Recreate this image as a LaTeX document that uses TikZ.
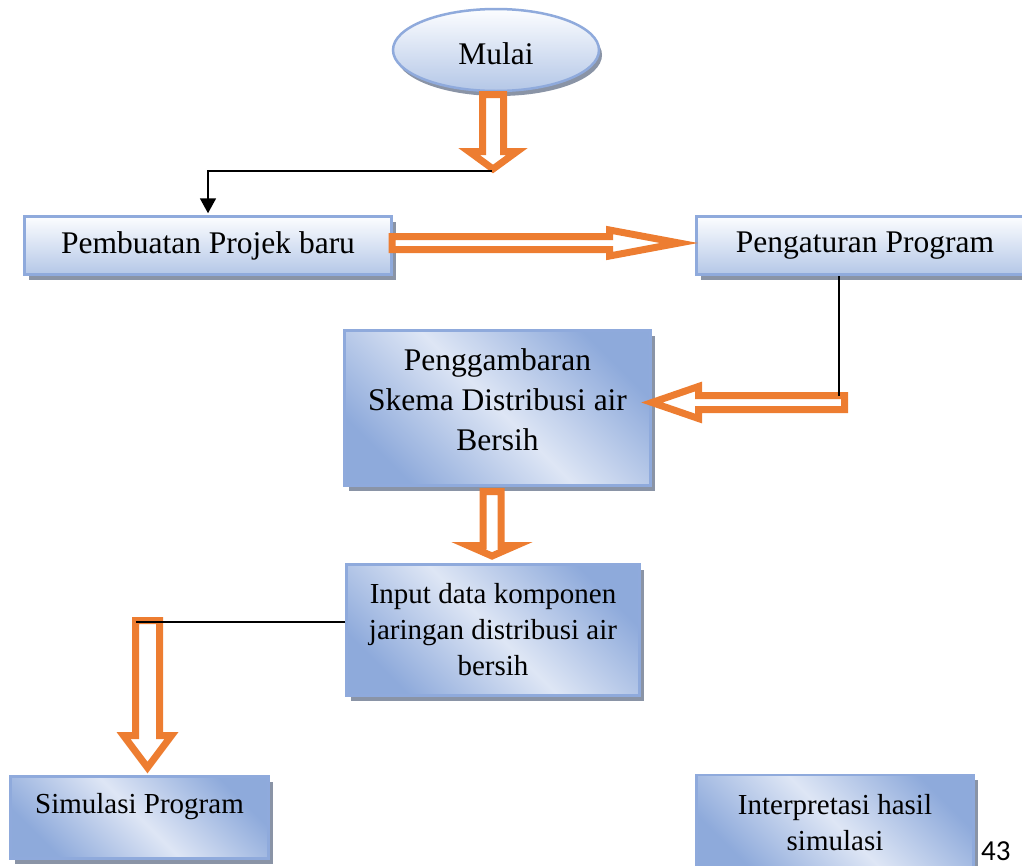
\documentclass[tikz,border=0pt]{standalone}
\usepackage{fontspec}
\setmainfont{Liberation Serif}
\newfontfamily\pagenumfont{Carlito}
\usetikzlibrary{shadows,arrows.meta,shapes.geometric,calc}
\definecolor{boxborder}{RGB}{143,170,220}
\definecolor{boxdark}{RGB}{142,170,219}
\definecolor{boxlight}{RGB}{222,230,245}
\definecolor{boxtop}{RGB}{252,253,255}
\definecolor{boxbottom}{RGB}{180,199,231}
\definecolor{shadowgray}{RGB}{138,148,166}
\definecolor{arroworange}{RGB}{237,125,49}
\tikzset{
  flowbox/.style={rectangle, draw=boxborder, line width=2.5pt, inner sep=0pt, align=center,
    drop shadow={shadow xshift=4pt, shadow yshift=-5pt, fill=shadowgray, opacity=1}},
  plainfill/.style={top color=boxtop, bottom color=boxbottom},
  diagfill/.style={top color=boxdark, bottom color=boxdark, middle color=boxlight, shading angle=-45},
  bigtext/.style={font=\fontsize{31.5}{40}\selectfont},
  smalltext/.style={font=\fontsize{29}{36}\selectfont},
  hollow/.style={draw=arroworange, fill=white, line width=7pt, line join=miter},
  connector/.style={draw=black, line width=1.8pt},
}
\newcommand{\HollowDown}[6]{%
  \draw[hollow] (#1-#5,#2) -- (#1+#5,#2) -- (#1+#5,#3) -- (#1+#6,#3) -- (#1,#4) -- (#1-#6,#3) -- (#1-#5,#3) -- cycle;}
\newcommand{\HollowHoriz}[6]{%
  \draw[hollow] (#2,#1-#5) -- (#3,#1-#5) -- (#3,#1-#6) -- (#4,#1) -- (#3,#1+#6) -- (#3,#1+#5) -- (#2,#1+#5) -- cycle;}
\begin{document}
\begin{tikzpicture}[x=1pt,y=-1pt]
\useasboundingbox (0,0) rectangle (1022,865);

% nodes
\node[ellipse, draw=boxborder, line width=2.5pt, inner sep=0pt, top color=boxtop, bottom color=boxbottom,
  minimum width=206pt, minimum height=82pt, bigtext, text height=28pt, text depth=0pt,
  drop shadow={shadow xshift=3pt, shadow yshift=-5pt, fill=shadowgray, opacity=1}] (start) at (496,50) {Mulai};
\node[flowbox, plainfill, bigtext, minimum width=367pt, minimum height=58pt] (b1) at (208,245.5) {Pembuatan Projek baru};
\node[flowbox, plainfill, bigtext, minimum width=337pt, minimum height=58pt] (b2) at (865,245.5) {Pengaturan Program};
\node[flowbox, diagfill, bigtext, minimum width=306pt, minimum height=155pt] (b3) at (497.5,408)
  {Penggambaran\\Skema Distribusi air\\Bersih\rule[-16pt]{0pt}{0pt}};
\node[flowbox, diagfill, smalltext, minimum width=293pt, minimum height=131pt] (b4) at (493,630)
  {Input data komponen\\jaringan distribusi air\\bersih};
\node[flowbox, diagfill, smalltext, minimum width=258pt, minimum height=82pt, text height=20pt, text depth=29pt] (b5) at (139.5,817.5)
  {Simulasi Program};
\node[flowbox, diagfill, smalltext, minimum width=277pt, minimum height=95pt] (b6) at (835,822.5)
  {Interpretasi hasil\\simulasi};
\node[font=\pagenumfont\fontsize{29}{31}\selectfont, anchor=base west, inner sep=0pt] (pagenum) at (981,860) {43};

% hollow block arrows
\HollowDown{493}{94.5}{151.5}{169}{10.5}{24}
\HollowHoriz{243}{392}{609.5}{679}{6.5}{13}
\HollowHoriz{402.5}{844.5}{698.5}{652}{7}{16}
\HollowDown{492}{491.5}{545.5}{556}{9}{24}
\HollowDown{147.5}{620.5}{735.5}{767.5}{12}{24}

% black connectors
\coordinate (a1tip) at (492,171);
\coordinate (a3top) at (839,395.5);
\coordinate (a5top) at (136,622);
\draw[connector, -{Triangle[width=16pt,length=15pt]}, shorten >=2pt] (a1tip) -| (b1.north);
\draw[connector] (b2.south -| a3top) -- (a3top);
\draw[connector] (b4.west |- a5top) -- (a5top);
\end{tikzpicture}
\end{document}
